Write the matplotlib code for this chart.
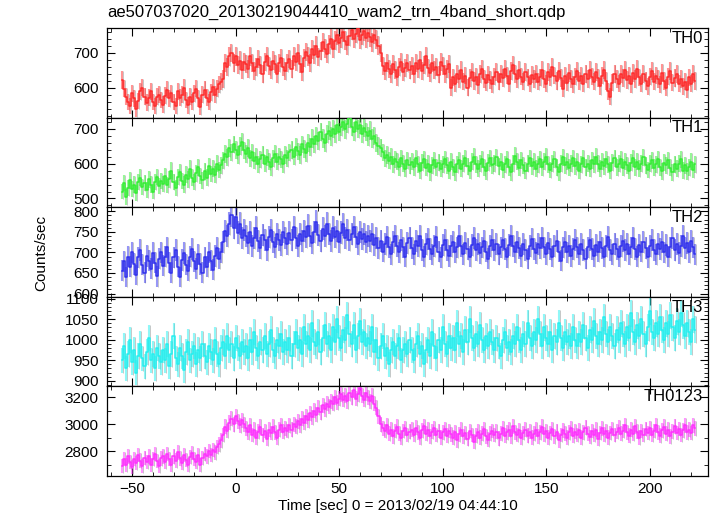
import numpy as np
import matplotlib

matplotlib.use("Agg")

import matplotlib.pyplot as plt  # noqa: E402
from matplotlib.ticker import MultipleLocator  # noqa: E402

plt.rcParams["font.family"] = ["Liberation Sans", "DejaVu Sans"]
plt.rcParams["font.size"] = 11

TITLE = "ae507037020_20130219044410_wam2_trn_4band_short.qdp"
X_LABEL = "Time [sec] 0 = 2013/02/19 04:44:10"
Y_LABEL = "Counts/sec"

# 1-s bins starting at t = -55 s
T_START = -55

th0 = [
    622, 598, 575, 560, 548, 585, 570, 540, 562, 590, 600, 575, 558, 572, 590, 560, 548, 575, 580, 565,
    552, 578, 595, 570, 585, 560, 548, 590, 572, 580, 600, 565, 550, 575, 560, 585, 598, 570, 545, 580,
    595, 572, 560, 588, 602, 580, 598, 610, 618, 625, 672, 660, 690, 700, 672, 690, 665, 678, 652, 675,
    668, 655, 690, 672, 648, 660, 682, 665, 640, 675, 690, 662, 650, 678, 668, 640, 672, 685, 660, 648,
    670, 682, 655, 690, 675, 700, 668, 645, 685, 702, 690, 670, 710, 695, 720, 688, 705, 730, 712, 698,
    725, 740, 712, 735, 750, 728, 742, 760, 735, 722, 748, 765, 740, 755, 772, 738, 750, 762, 742, 758,
    745, 730, 752, 738, 720, 700, 662, 648, 670, 655, 640, 668, 652, 630, 660, 675, 645, 658, 670, 650,
    662, 640, 672, 655, 680, 648, 665, 690, 658, 642, 670, 652, 660, 638, 675, 662, 640, 655, 668, 600,
    630, 612, 640, 625, 650, 618, 635, 600, 628, 645, 620, 632, 608, 640, 655, 625, 615, 638, 622, 610,
    632, 645, 618, 640, 628, 655, 635, 612, 648, 665, 640, 625, 650, 632, 618, 645, 630, 612, 638, 625,
    640, 618, 630, 652, 625, 612, 645, 630, 660, 635, 620, 648, 628, 598, 635, 615, 642, 625, 610, 632,
    648, 620, 635, 612, 640, 625, 650, 632, 618, 645, 628, 605, 635, 650, 620, 590, 575, 615, 640, 625,
    612, 640, 628, 650, 622, 635, 610, 642, 625, 655, 630, 612, 640, 620, 605, 632, 648, 618, 635, 625,
    610, 642, 620, 600, 632, 648, 615, 628, 640, 612, 625, 605, 618, 595, 630, 612, 640, 620,
]

th1 = [
    520, 545, 505, 530, 552, 528, 540, 515, 548, 560, 532, 545, 525, 555, 540, 520, 548, 562, 535, 550,
    542, 565, 538, 555, 580, 548, 530, 562, 575, 550, 540, 568, 555, 585, 560, 548, 572, 590, 565, 552,
    578, 560, 592, 570, 585, 568, 600, 582, 595, 610, 628, 618, 645, 632, 655, 640, 625, 650, 662, 638,
    628, 645, 615, 632, 608, 620, 598, 612, 625, 600, 618, 605, 590, 615, 628, 605, 620, 612, 598, 625,
    615, 632, 640, 620, 648, 635, 625, 655, 642, 630, 660, 648, 672, 655, 680, 665, 690, 672, 660, 685,
    695, 678, 700, 685, 712, 690, 705, 720, 698, 715, 730, 705, 692, 718, 700, 712, 685, 702, 690, 678,
    695, 672, 680, 660, 650, 645, 632, 615, 625, 608, 620, 598, 612, 605, 590, 615, 600, 585, 610, 595,
    605, 590, 615, 598, 580, 602, 612, 588, 600, 575, 595, 610, 590, 602, 585, 598, 612, 595, 580, 605,
    590, 575, 598, 610, 585, 600, 615, 592, 580, 605, 620, 598, 585, 600, 612, 590, 578, 602, 615, 595,
    600, 618, 592, 605, 582, 598, 612, 590, 575, 600, 622, 605, 588, 610, 595, 580, 600, 615, 592, 605,
    585, 598, 612, 590, 605, 620, 598, 582, 600, 612, 590, 575, 600, 618, 595, 605, 588, 600, 615, 592,
    605, 580, 598, 615, 590, 600, 585, 610, 598, 620, 600, 585, 605, 592, 612, 598, 580, 602, 615, 590,
    600, 612, 588, 605, 595, 580, 602, 615, 590, 605, 585, 600, 618, 595, 582, 600, 610, 588, 598, 612,
    590, 578, 602, 595, 610, 588, 575, 598, 585, 600, 612, 580, 595, 578, 590, 605, 582, 598,
]

th2 = [
    655, 678, 640, 690, 665, 700, 672, 645, 688, 705, 670, 650, 692, 680, 660, 698, 675, 642, 685, 700,
    668, 690, 712, 675, 650, 688, 705, 665, 640, 682, 698, 670, 655, 690, 708, 678, 660, 695, 672, 650,
    688, 665, 700, 680, 658, 692, 710, 685, 700, 725, 752, 740, 770, 790, 760, 785, 748, 770, 735, 755,
    740, 722, 750, 715, 735, 760, 728, 710, 742, 730, 705, 738, 755, 725, 712, 745, 730, 718, 750, 735,
    720, 748, 730, 762, 735, 715, 745, 728, 752, 738, 765, 740, 722, 750, 775, 742, 728, 758, 740, 770,
    745, 728, 760, 738, 752, 725, 748, 768, 735, 755, 730, 745, 762, 738, 720, 750, 732, 745, 725, 740,
    728, 745, 718, 735, 710, 728, 702, 720, 738, 712, 695, 725, 740, 715, 700, 730, 712, 690, 722, 735,
    710, 695, 728, 715, 740, 705, 690, 720, 732, 708, 695, 715, 738, 702, 688, 718, 730, 705, 692, 715,
    725, 700, 712, 740, 715, 695, 722, 708, 690, 718, 735, 705, 720, 698, 712, 728, 702, 685, 715, 730,
    705, 720, 695, 712, 730, 708, 688, 718, 740, 715, 700, 725, 710, 692, 720, 705, 685, 715, 732, 708,
    698, 720, 710, 735, 712, 695, 722, 708, 690, 715, 728, 702, 680, 712, 725, 700, 715, 692, 708, 730,
    712, 695, 720, 705, 685, 712, 730, 708, 692, 718, 702, 725, 710, 690, 715, 738, 705, 695, 720, 708,
    690, 715, 728, 705, 720, 695, 712, 735, 708, 690, 718, 702, 725, 710, 688, 715, 730, 705, 695, 720,
    708, 725, 700, 718, 690, 712, 735, 705, 720, 698, 715, 740, 710, 722, 700, 728, 712, 695,
]

th3 = [
    950, 985, 930, 965, 1000, 945, 975, 920, 960, 990, 955, 935, 970, 1005, 950, 965, 930, 980, 960, 945,
    975, 950, 990, 935, 965, 1010, 955, 940, 980, 960, 925, 970, 995, 950, 965, 985, 940, 975, 955, 990,
    960, 945, 985, 970, 950, 1000, 965, 940, 980, 995, 960, 1010, 975, 990, 955, 1005, 980, 960, 995, 970,
    985, 955, 1000, 970, 1020, 980, 960, 995, 975, 1010, 965, 990, 1025, 975, 960, 1000, 985, 1015, 970, 995,
    975, 1005, 960, 990, 1020, 980, 1000, 965, 1030, 990, 1010, 975, 1040, 995, 985, 1020, 970, 1005, 1035, 990,
    1010, 975, 1030, 995, 1050, 1005, 980, 1025, 1000, 1060, 1015, 990, 1035, 975, 1010, 1045, 995, 1020, 985, 1005,
    990, 1030, 970, 1000, 955, 985, 1010, 960, 980, 940, 975, 995, 960, 985, 1005, 950, 975, 990, 965, 1000,
    975, 950, 990, 1010, 965, 985, 940, 975, 1000, 960, 1020, 985, 955, 1000, 975, 1030, 990, 965, 1010, 980,
    1005, 975, 1040, 990, 1010, 970, 1025, 995, 1050, 1005, 980, 1015, 990, 1035, 1000, 975, 1010, 985, 1020, 995,
    975, 1005, 985, 960, 1000, 1020, 980, 995, 970, 1010, 990, 1030, 1000, 975, 1015, 990, 1040, 1005, 985, 1020,
    1000, 1050, 1015, 985, 1030, 1005, 990, 1020, 975, 1010, 995, 1040, 1005, 980, 1020, 995, 1010, 985, 1030, 1000,
    985, 1015, 995, 1035, 1005, 980, 1025, 1000, 1045, 1010, 990, 1020, 1000, 1055, 1015, 995, 1030, 1010, 985, 1025,
    1000, 1040, 1015, 990, 1030, 1005, 1065, 1020, 995, 1035, 1010, 1050, 1015, 990, 1030, 1070, 1020, 1005, 1040, 1015,
    1055, 1025, 1000, 1040, 1015, 1060, 1030, 1005, 1045, 1020, 1065, 1035, 1010, 1040, 1020, 995, 1050, 1025,
]

th0123 = [
    2690, 2740, 2700, 2760, 2720, 2680, 2740, 2710, 2770, 2730, 2690, 2750, 2720, 2760, 2700, 2740, 2780, 2725, 2690, 2745,
    2760, 2720, 2780, 2740, 2700, 2760, 2730, 2790, 2745, 2710, 2770, 2735, 2700, 2755, 2785, 2740, 2720, 2770, 2700, 2750,
    2780, 2760, 2800, 2770, 2810, 2790, 2830, 2850, 2880, 2920, 2980, 2950, 3010, 3040, 3000, 3060, 3020, 2990, 3030, 3000,
    2970, 2940, 2990, 2920, 2960, 2900, 2945, 2980, 2920, 2950, 2890, 2960, 2935, 2980, 2940, 2900, 2960, 2990, 2945, 2970,
    2950, 2990, 2960, 3000, 2980, 3020, 2990, 3040, 3010, 3060, 3030, 3080, 3050, 3100, 3070, 3120, 3090, 3140, 3110, 3150,
    3130, 3170, 3150, 3200, 3160, 3190, 3220, 3180, 3210, 3170, 3230, 3200, 3250, 3190, 3220, 3270, 3210, 3180, 3230, 3200,
    3170, 3210, 3150, 3120, 3060, 3000, 2970, 2950, 2990, 2930, 2960, 2910, 2950, 2980, 2930, 2900, 2950, 2970, 2920, 2945,
    2960, 2920, 2975, 2940, 2900, 2955, 2985, 2930, 2960, 2910, 2945, 2970, 2920, 2950, 2900, 2940, 2965, 2915, 2950, 2925,
    2900, 2940, 2880, 2925, 2960, 2910, 2935, 2890, 2950, 2920, 2870, 2915, 2945, 2900, 2930, 2965, 2910, 2885, 2930, 2950,
    2920, 2945, 2895, 2930, 2970, 2915, 2940, 2960, 2910, 2985, 2940, 2920, 2955, 2900, 2935, 2960, 2915, 2945, 2900, 2930,
    2960, 2910, 2940, 2980, 2925, 2950, 2900, 2935, 2965, 2910, 2945, 2880, 2920, 2955, 2930, 2900, 2940, 2970, 2915, 2945,
    2920, 2955, 2900, 2940, 2975, 2930, 2905, 2950, 2920, 2960, 2890, 2935, 2970, 2925, 2950, 2900, 2935, 2965, 2920, 2945,
    2975, 2930, 2950, 2990, 2940, 2915, 2960, 2930, 2985, 2945, 2900, 2950, 2920, 2965, 2935, 2970, 2920, 2950, 2990, 2940,
    2915, 2955, 2980, 2930, 2960, 2910, 2945, 2985, 2935, 2965, 2920, 2955, 2990, 2940, 2960, 2935, 2990, 2970,
]

panels = [
    ("TH0", th0, "#ff2a2a", (515, 771), 100, 20),
    ("TH1", th1, "#33ee33", (475, 732), 100, 20),
    ("TH2", th2, "#2f2fee", (592, 810), 50, 10),
    ("TH3", th3, "#22f0f0", (886, 1105), 50, 10),
    ("TH0123", th0123, "#ff30ff", (2615, 3280), 200, 100),
]

fig, axes = plt.subplots(5, 1, sharex=True, figsize=(7.17, 5.16), dpi=100)
fig.subplots_adjust(left=0.149, right=0.987, bottom=0.0775, top=0.9457, hspace=0)

for ax, (name, rate, color, ylim, major, minor) in zip(axes, panels):
    rate = np.asarray(rate, dtype=float)
    t = T_START + np.arange(rate.size)
    err = np.sqrt(rate)  # Poisson error for 1-s bins
    ax.errorbar(t + 0.45, rate, yerr=err, fmt="none", ecolor="black",
                elinewidth=0.5, alpha=0.3, zorder=1)
    ax.errorbar(t, rate, yerr=err, fmt="none", ecolor=color,
                elinewidth=1.5, alpha=0.5, zorder=2)
    ax.step(t, rate, where="mid", color=color, lw=1.1, zorder=3)
    ax.set_ylim(*ylim)
    ax.yaxis.set_major_locator(MultipleLocator(major))
    ax.yaxis.set_minor_locator(MultipleLocator(minor))
    ax.xaxis.set_major_locator(MultipleLocator(50))
    ax.xaxis.set_minor_locator(MultipleLocator(10))
    ax.tick_params(which="both", direction="in", top=True, right=True, labelsize=11, pad=6)
    ax.tick_params(which="major", length=6, width=0.8)
    ax.tick_params(which="minor", length=3, width=0.6)
    for sp in ax.spines.values():
        sp.set_linewidth(0.9)
    ax.text(0.992, 0.97, name, transform=ax.transAxes, ha="right", va="top", fontsize=12)

axes[-1].set_xlim(-62.2, 228)
axes[-1].tick_params(axis="x", pad=4)

fig.text(0.149, 0.975, TITLE, ha="left", va="center", fontsize=12)
fig.text(0.555, 0.02, X_LABEL, ha="center", va="center", fontsize=11)
fig.text(0.058, 0.51, Y_LABEL, ha="center", va="center", rotation=90, fontsize=11)

fig.savefig("out.png", dpi=100)
